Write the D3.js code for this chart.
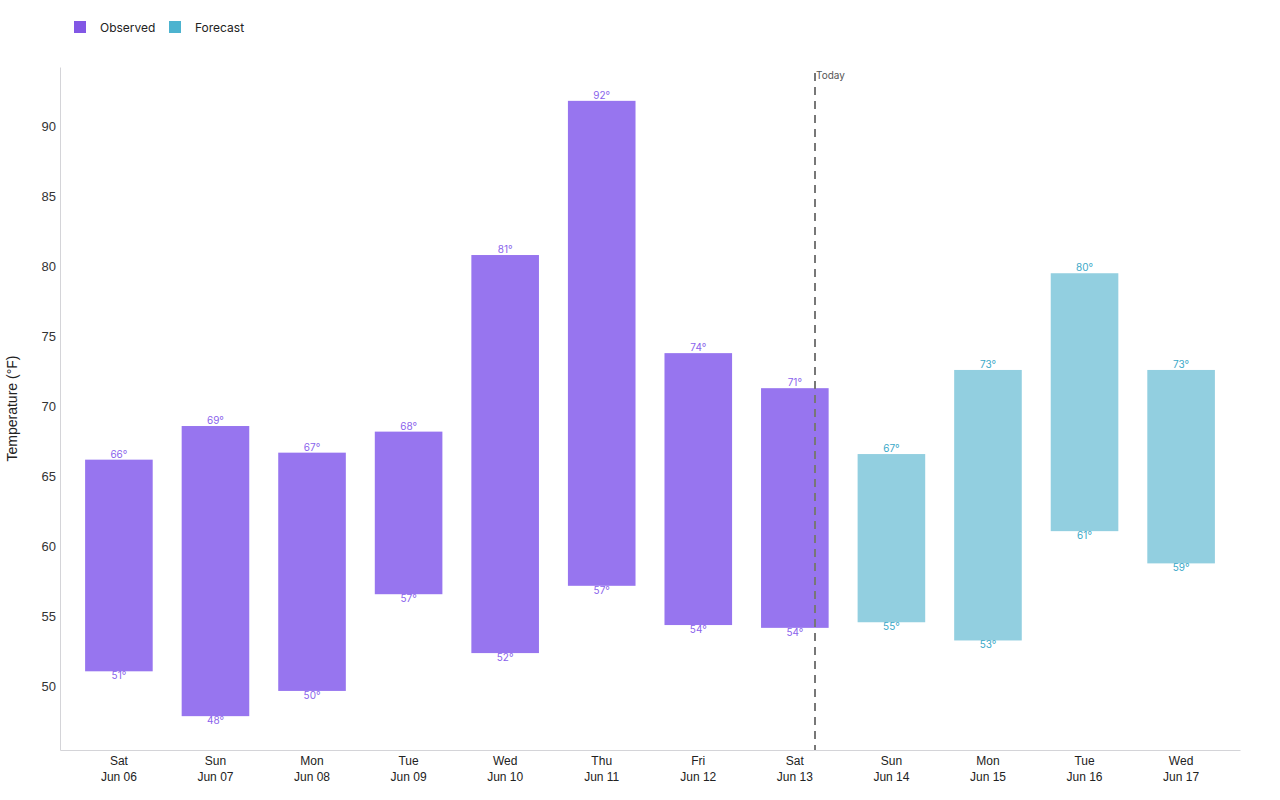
<!DOCTYPE html>
<html>
<head>
<meta charset="utf-8">
<script src="https://cdn.jsdelivr.net/npm/d3@7"></script>
<style>
  body { margin: 0; background: #fff; }
  svg { display: block; font-family: Inter, "Noto Sans", sans-serif; }
</style>
</head>
<body>
<div id="chart"></div>
<script>
// daily temperature ranges (°F)
var days = ["Sat", "Sun", "Mon", "Tue", "Wed", "Thu", "Fri", "Sat", "Sun", "Mon", "Tue", "Wed"];
var dates = ["Jun 06", "Jun 07", "Jun 08", "Jun 09", "Jun 10", "Jun 11", "Jun 12", "Jun 13", "Jun 14", "Jun 15", "Jun 16", "Jun 17"];
var highs = [66.2, 68.6, 66.7, 68.2, 80.8, 91.8, 73.8, 71.3, 66.6, 72.6, 79.5, 72.6];
var lows = [51.1, 47.9, 49.7, 56.6, 52.4, 57.2, 54.4, 54.2, 54.6, 53.3, 61.1, 58.8];
var kinds = ["Observed", "Observed", "Observed", "Observed", "Observed", "Observed", "Observed", "Observed",
             "Forecast", "Forecast", "Forecast", "Forecast"];
var yTicks = [50, 55, 60, 65, 70, 75, 80, 85, 90];
var todayIndex = 7;      // Jun 13
var todayFraction = 0.8; // time of day within the band

var W = 1280, H = 800;
var margin = {top: 67, right: 40, bottom: 50, left: 60};

var colors = {Observed: "#8257e5", Forecast: "#4db3cf"};
var fills = {Observed: "#9775ef", Forecast: "#92cfe0"};
var labelColors = {Observed: "#8a63ec", Forecast: "#3aa8c8"};

var data = dates.map(function (d, i) {
    return {day: days[i], date: d, high: highs[i], low: lows[i], kind: kinds[i]};
});

var svg = d3.select("#chart").append("svg")
    .attr("width", W)
    .attr("height", H);

var x = d3.scaleBand()
    .domain(dates)
    .range([margin.left, W - margin.right])
    .paddingInner(0.3)
    .paddingOuter(0.26);

var lo = d3.min(lows), hi = d3.max(highs), pad = (hi - lo) * 0.055;
var y = d3.scaleLinear()
    .domain([lo - pad, hi + pad])
    .range([H - margin.bottom, margin.top]);

// legend
var legend = svg.append("g").attr("transform", "translate(74,21)");
var lx = 0;
["Observed", "Forecast"].forEach(function (k) {
    var g = legend.append("g").attr("transform", "translate(" + lx + ",0)");
    g.append("rect").attr("width", 12).attr("height", 12).attr("fill", colors[k]);
    g.append("text").attr("x", 26).attr("y", 7).attr("dy", "0.35em")
        .attr("font-size", 12).attr("fill", "#222").text(k);
    lx += 95;
});

// y axis
var yAxis = svg.append("g")
    .attr("transform", "translate(" + margin.left + ",0)")
    .call(d3.axisLeft(y).tickValues(yTicks).tickSize(0).tickPadding(4));
yAxis.select(".domain").attr("stroke", "#d4d4d8");
yAxis.selectAll("text").attr("font-size", 13).attr("fill", "#333")
    .attr("font-family", "'Liberation Sans', Arial, sans-serif");

svg.append("text")
    .attr("transform", "translate(17," + ((margin.top + H - margin.bottom) / 2) + ") rotate(-90)")
    .attr("text-anchor", "middle")
    .attr("font-size", 14)
    .attr("fill", "#222")
    .attr("font-family", "'Liberation Sans', Arial, sans-serif")
    .text("Temperature (°F)");

// x axis
var xAxis = svg.append("g")
    .attr("transform", "translate(0," + (H - margin.bottom) + ")")
    .call(d3.axisBottom(x).tickSize(0).tickFormat(""));
xAxis.select(".domain").attr("stroke", "#d4d4d8");
xAxis.selectAll(".tick").each(function (d, i) {
    var t = d3.select(this).append("text")
        .attr("text-anchor", "middle")
        .attr("font-size", 12)
        .attr("fill", "#222");
    t.append("tspan").attr("x", 0).attr("y", 15).text(days[i]);
    t.append("tspan").attr("x", 0).attr("y", 31).text(dates[i]);
});

// bars
svg.append("g").selectAll("rect")
    .data(data)
    .join("rect")
    .attr("x", function (d) { return x(d.date); })
    .attr("y", function (d) { return y(d.high); })
    .attr("width", x.bandwidth())
    .attr("height", function (d) { return y(d.low) - y(d.high); })
    .attr("fill", function (d) { return fills[d.kind]; });

var labels = svg.append("g").attr("font-size", 10);
labels.selectAll(".hi")
    .data(data)
    .join("text")
    .attr("class", "hi")
    .attr("x", function (d) { return x(d.date) + x.bandwidth() / 2; })
    .attr("y", function (d) { return y(d.high) - 2; })
    .attr("text-anchor", "middle")
    .attr("fill", function (d) { return labelColors[d.kind]; })
    .text(function (d) { return Math.round(d.high) + "°"; });
labels.selectAll(".lo")
    .data(data)
    .join("text")
    .attr("class", "lo")
    .attr("x", function (d) { return x(d.date) + x.bandwidth() / 2; })
    .attr("y", function (d) { return y(d.low) + 8; })
    .attr("text-anchor", "middle")
    .attr("fill", function (d) { return labelColors[d.kind]; })
    .text(function (d) { return Math.round(d.low) + "°"; });

// today marker
var tx = Math.round(x(dates[todayIndex]) + x.bandwidth() * todayFraction);
svg.append("line")
    .attr("x1", tx).attr("x2", tx)
    .attr("y1", 73).attr("y2", H - margin.bottom)
    .attr("stroke", "#777")
    .attr("stroke-width", 2)
    .attr("stroke-dasharray", "8,6");
svg.append("text")
    .attr("x", tx + 1)
    .attr("y", 79)
    .attr("font-size", 10)
    .attr("fill", "#555")
    .text("Today");
</script>
</body>
</html>
